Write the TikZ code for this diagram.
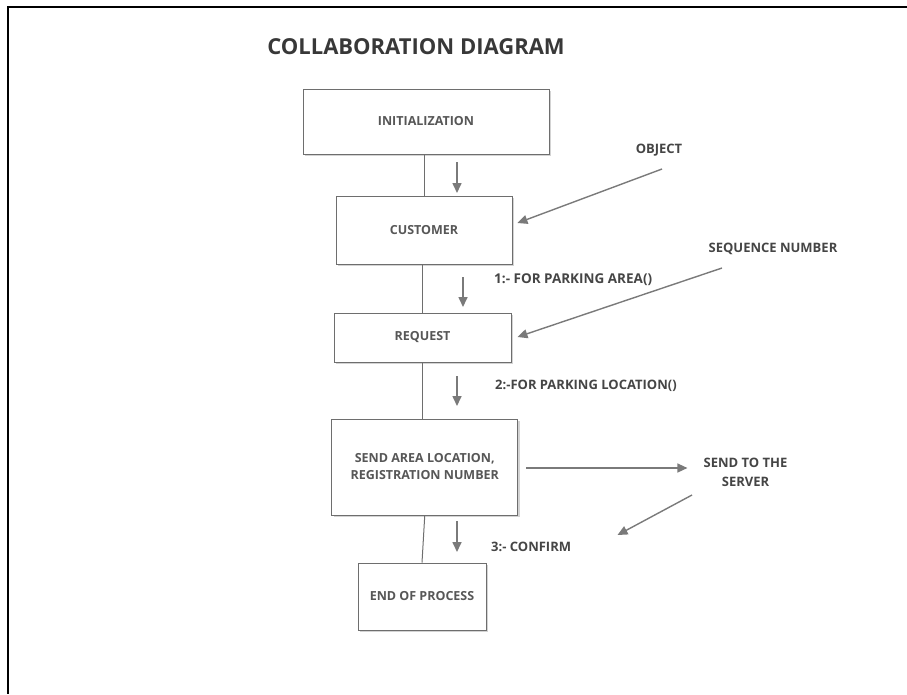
\documentclass[tikz,border=0pt]{standalone}
\usepackage{fontspec}
\setmainfont{Open Sans}
\usetikzlibrary{arrows.meta,shadows}
\definecolor{txtgray}{HTML}{454545}
\definecolor{boxtxt}{HTML}{575757}
\definecolor{linegray}{HTML}{6E6E6E}
\definecolor{arrgray}{HTML}{7A7A7A}
\tikzset{
  objbox/.style={draw=linegray, line width=0.9pt, fill=white, rectangle,
    inner sep=0pt, align=center, text=boxtxt, font=\bfseries\fontsize{12.5}{17}\selectfont,
    drop shadow={opacity=0.35, shadow xshift=2pt, shadow yshift=-2pt, fill=gray}},
  link/.style={draw=linegray, line width=1pt},
  msgarrow/.style={draw=arrgray, line width=1.6pt, -{Triangle[length=10pt,width=9pt]}},
  lbl/.style={text=txtgray, font=\bfseries\fontsize{13}{15}\selectfont, inner sep=0pt},
  frame/.style={draw=black, line width=1.4pt}
}
\begin{document}
\begin{tikzpicture}[x=1pt,y=-1pt]
\useasboundingbox (0,0) rectangle (907,694);
% outer frame (top and left edges visible)
\coordinate (fr1) at (907,7);
\coordinate (fr2) at (8,7);
\coordinate (fr3) at (8,694);
\draw[frame] (fr1) -- (fr2) -- (fr3);

\node[lbl, font=\bfseries\fontsize{22}{24}\selectfont, text=black!78] (title) at (416,47) {COLLABORATION DIAGRAM};

% objects
\node[objbox, minimum width=246pt, minimum height=65pt] (init) at (426,121.5) {INITIALIZATION};
\node[objbox, minimum width=176pt, minimum height=68pt] (cust) at (424,230) {CUSTOMER};
\node[objbox, minimum width=177pt, minimum height=49pt] (req) at (422.5,337.5) {REQUEST};
\node[objbox, minimum width=186pt, minimum height=96pt] (send) at (424.75,467) {SEND AREA LOCATION,\\REGISTRATION NUMBER};
\node[objbox, minimum width=128pt, minimum height=67pt] (endp) at (422,596.5) {END OF PROCESS};

% links
\draw[link] (cust.north |- init.south) -- (cust.north);
\draw[link] (req.north |- cust.south) -- (req.north);
\draw[link] (req.south) -- (req.south |- send.north);
\draw[link] (send.south) -- (endp.north);

% message arrows
\coordinate (m1a) at (457,162); \coordinate (m1b) at (457,193);
\coordinate (m2a) at (463,277); \coordinate (m2b) at (463,307);
\coordinate (m3a) at (457,376); \coordinate (m3b) at (457,406);
\coordinate (m4a) at (457,521); \coordinate (m4b) at (457,552);
\draw[msgarrow] (m1a) -- (m1b);
\draw[msgarrow] (m2a) -- (m2b);
\draw[msgarrow] (m3a) -- (m3b);
\draw[msgarrow] (m4a) -- (m4b);

% labels
\node[lbl] (objl) at (659,150) {OBJECT};
\node[lbl, anchor=west, font=\bfseries\fontsize{13.5}{15}\selectfont] (l1) at (494,280) {1:- FOR PARKING AREA()};
\node[lbl] (seql) at (773,249) {SEQUENCE NUMBER};
\node[lbl, anchor=west] (l2) at (495,386) {2:-FOR PARKING LOCATION()};
\node[lbl, align=center, font=\bfseries\fontsize{13}{19}\selectfont] (srv) at (745.5,472.5) {SEND TO THE\\SERVER};
\node[lbl, anchor=west] (l3) at (491,547) {3:- CONFIRM};

% pointer arrows
\coordinate (p1a) at (662,169);
\coordinate (p2a) at (722,268);
\coordinate (p3a) at (692,495);
\coordinate (p3b) at (617.5,535);
\draw[msgarrow, line width=1.4pt] (p1a) -- ([xshift=5pt]cust.east |- 0,223);
\draw[msgarrow, line width=1.4pt] (p2a) -- ([xshift=6pt]req.east |- 0,337);
\draw[msgarrow, line width=1.4pt] ([xshift=8pt]send.east |- 0,468) -- ([xshift=-16pt]srv.west |- 0,468);
\draw[msgarrow, line width=1.4pt] (p3a) -- (p3b);
\end{tikzpicture}
\end{document}
